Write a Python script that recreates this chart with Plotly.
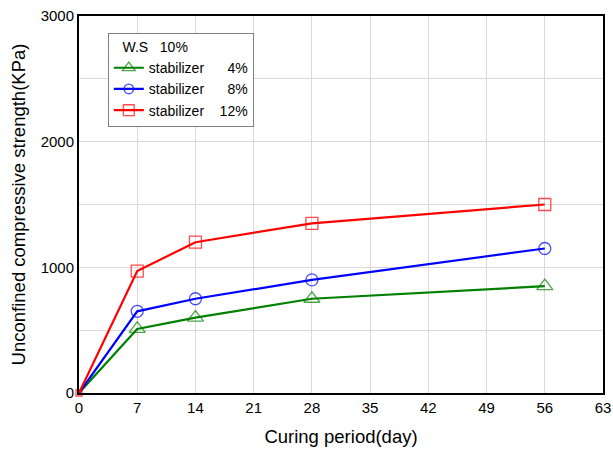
import plotly.graph_objects as go

days = [0, 7, 14, 28, 56]
s4 = [0, 510, 600, 750, 850]
s8 = [0, 650, 750, 900, 1150]
s12 = [0, 970, 1200, 1350, 1500]
names = ["stabilizer\u00a0\u00a0\u00a0\u00a0\u00a0\u00a04%",
         "stabilizer\u00a0\u00a0\u00a0\u00a0\u00a0\u00a08%",
         "stabilizer\u00a0\u00a0\u00a0\u00a012%"]
legend_title = "\u00a0\u00a0\u00a0W.S\u00a0\u00a0\u00a010%"
xticks = [0, 7, 14, 21, 28, 35, 42, 49, 56, 63]
yticks = [0, 1000, 2000, 3000]

fig = go.Figure()
specs = [(s4, "#008000", "triangle-up-open", [0, 14, 14, 14, 14]),
         (s8, "#0000ff", "circle-open", [0, 12, 12, 12, 12]),
         (s12, "#ff0000", "square-open", [6, 12, 12, 12, 12])]
for (vals, col, sym, sz), nm in zip(specs, names):
    fig.add_trace(go.Scatter(
        x=days, y=vals, name=nm, mode="lines+markers",
        line=dict(color=col, width=2.2),
        marker=dict(symbol=sym, size=sz, color=col, line=dict(width=1.3, color=col)),
        cliponaxis=False,
    ))

fig.update_layout(
    width=613, height=450,
    margin=dict(l=79, r=10, t=16, b=57, autoexpand=False),
    paper_bgcolor="white", plot_bgcolor="white",
    font=dict(family="Liberation Sans, Arial, sans-serif", size=15, color="black"),
    showlegend=True,
    legend=dict(
        x=0.055, y=0.955, xanchor="left", yanchor="top",
        bgcolor="white", bordercolor="#808080", borderwidth=1,
        title=dict(text=legend_title, font=dict(size=14)),
        font=dict(size=14), tracegroupgap=0, itemwidth=30,
    ),
    xaxis=dict(
        range=[0, 63], tickvals=xticks, ticks="", showgrid=True,
        gridcolor="#d9d9d9", gridwidth=1, automargin=False,
        showline=True, linecolor="black", linewidth=2, mirror=True,
        zeroline=False,
        title=dict(text="Curing period(day)", font=dict(size=18.5), standoff=15),
    ),
    yaxis=dict(
        range=[0, 3000], tickvals=yticks, ticks="", showgrid=True,
        gridcolor="#d9d9d9", gridwidth=1, automargin=False,
        minor=dict(dtick=500, showgrid=True, gridcolor="#d9d9d9", gridwidth=1),
        showline=True, linecolor="black", linewidth=2, mirror=True,
        zeroline=False,
        title=dict(text="Unconfined compressive strength(KPa)", font=dict(size=18.5), standoff=10),
    ),
)
fig.write_html("out.html", post_script="document.body.style.margin='0';",
               config={"displayModeBar": False})
